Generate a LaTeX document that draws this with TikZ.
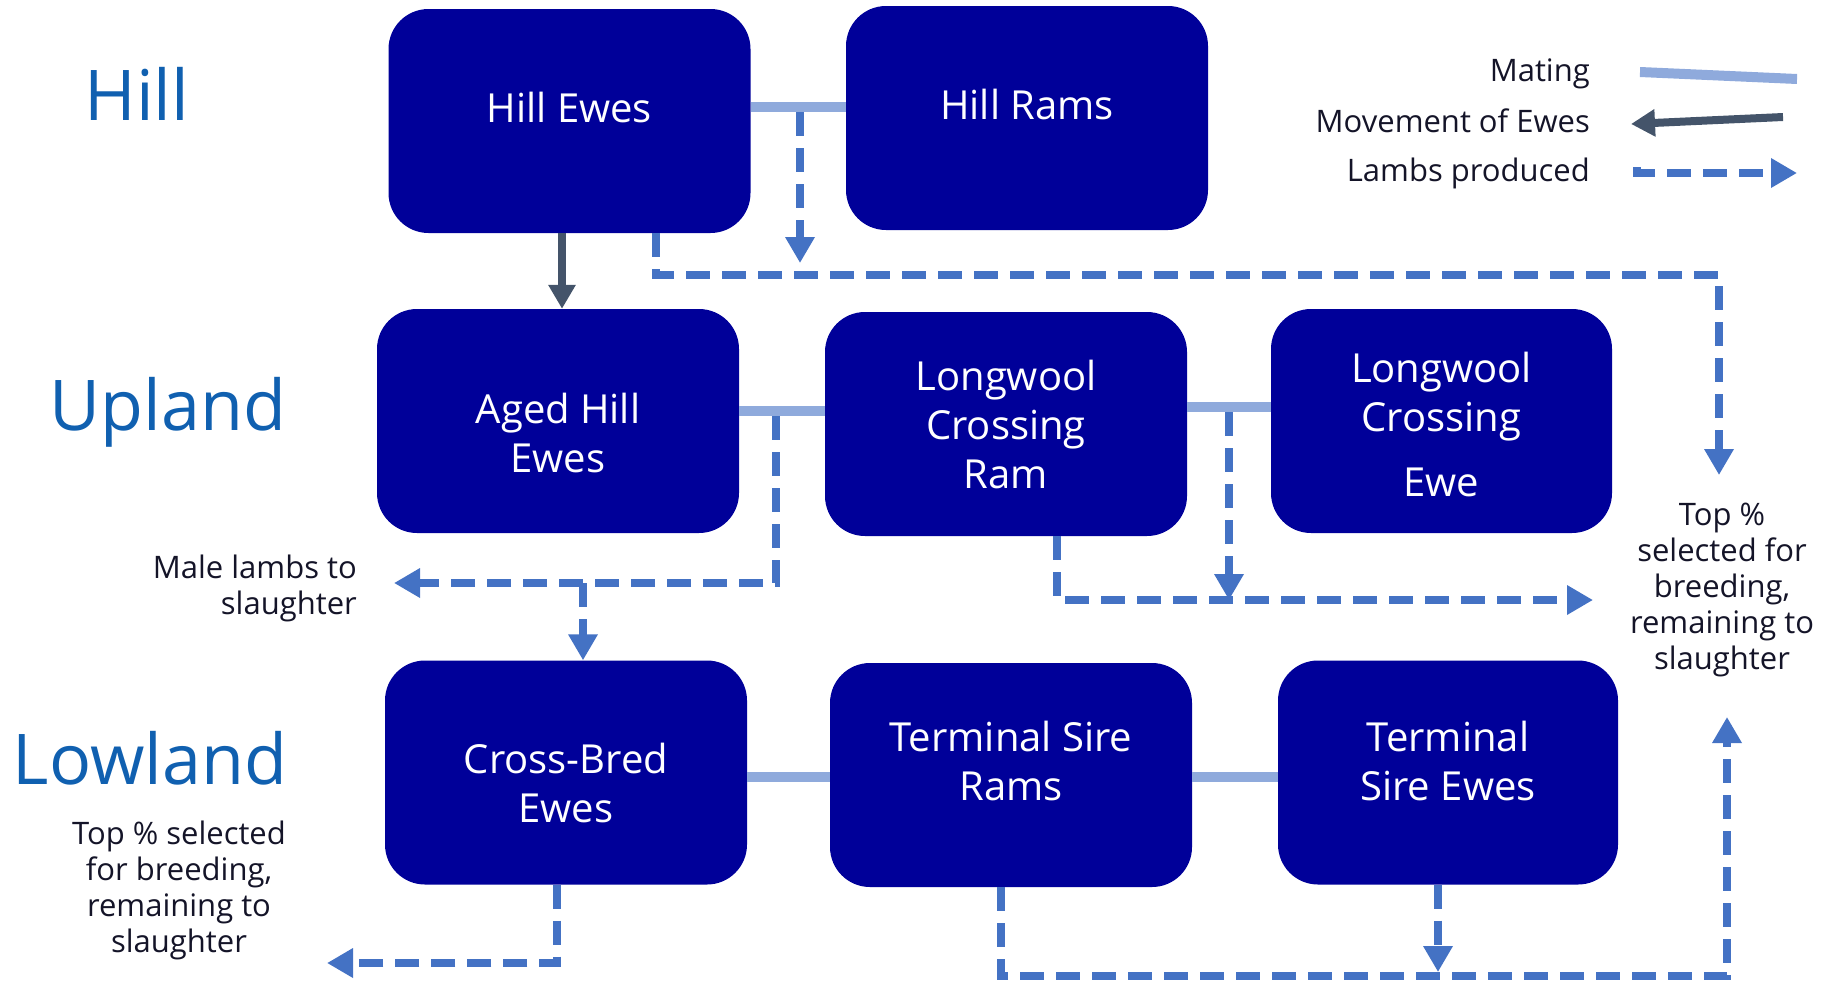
\documentclass[tikz,border=0pt]{standalone}
\usepackage{fontspec}
\setmainfont{Open Sans}
\usetikzlibrary{arrows.meta,calc}
\definecolor{boxfill}{RGB}{0,0,153}
\definecolor{matingblue}{RGB}{143,170,220}
\definecolor{lambblue}{RGB}{68,114,196}
\definecolor{moveslate}{RGB}{68,84,106}
\definecolor{regionblue}{RGB}{16,96,176}
\definecolor{notetext}{RGB}{20,20,40}
\begin{document}
\begin{tikzpicture}[x=1pt,y=-1pt,
  box/.style={fill=boxfill,rounded corners=40pt,inner sep=0pt,minimum width=362pt,minimum height=224pt},
  boxtext/.style={text=white,font=\fontsize{40}{49}\selectfont,align=center,inner sep=0pt},
  region/.style={text=regionblue,font=\fontsize{70}{80}\selectfont,inner sep=0pt},
  note/.style={text=notetext,font=\fontsize{31}{36}\selectfont,align=center,inner sep=0pt},
  mating/.style={draw=matingblue,line width=10pt},
  lamb/.style={draw=lambblue,line width=8pt,dash pattern=on 24pt off 12pt,-{Triangle[width=28pt,length=26pt]}},
  move/.style={draw=moveslate,line width=8pt,-{Triangle[width=26pt,length=24pt]}}]
\useasboundingbox (0,0) rectangle (1830,980);

% region labels
\node[region] (hill) at (137,94) {Hill};
\node[region] (upland) at (168,412) {Upland};
\node[region] (lowland) at (150,758) {Lowland};

% boxes
\node[box] (HE) at (569.5,121) {};
\node[box] (HR) at (1027,118) {};
\node[box] (AH) at (558,421) {};
\node[box] (LR) at (1006,424) {};
\node[box,minimum width=341pt] (LE) at (1441.5,421) {};
\node[box] (CB) at (566,772.5) {};
\node[box] (TR) at (1011,775) {};
\node[box,minimum width=340pt] (TE) at (1448,772.5) {};

% box texts
\node[boxtext] (HEt) at ([yshift=14pt]HE.center) {Hill Ewes};
\node[boxtext] (HRt) at ([yshift=14pt]HR.center) {Hill Rams};
\node[boxtext] (AHt) at ([yshift=-12pt]AH.center) {Aged Hill\\Ewes};
\node[boxtext] (LRt) at (LR.center) {Longwool\\Crossing\\Ram};
\node[boxtext] (LEt) at ([yshift=-3pt]LE.center) {Longwool\\Crossing\\[16pt]Ewe};
\node[boxtext] (CBt) at ([yshift=-10pt]CB.center) {Cross-Bred\\Ewes};
\node[boxtext] (TRt) at ([yshift=14pt]TR.center) {Terminal Sire\\Rams};
\node[boxtext] (TEt) at ([yshift=12pt]TE.center) {Terminal\\Sire Ewes};

% notes
\node[note] (topR) at (1722,590) {Top \%\\selected for\\breeding,\\remaining to\\slaughter};
\node[note,align=right,anchor=east] (male) at (357,588) {Male lambs to\\slaughter};
\node[note] (topL) at (179,890) {Top \% selected\\for breeding,\\remaining to\\slaughter};

% legend
\node[note,anchor=east] (lgM) at (1590,74) {Mating};
\node[note,anchor=east] (lgE) at (1590,121) {Movement of Ewes};
\node[note,anchor=east] (lgL) at (1590,173) {Lambs produced};
\coordinate (lm1) at (1640,72); \coordinate (lm2) at (1797,79);
\coordinate (le1) at (1783,117); \coordinate (le2) at (1631,124);
\coordinate (ll0) at (1637,167); \coordinate (ll1) at (1637,173); \coordinate (ll2) at (1797,173);
\draw[mating] (lm1) -- (lm2);
\draw[move] (le1) -- (le2);
\draw[lamb] (ll0) -- (ll1) -- (ll2);

% ---- Hill level
\coordinate (j1) at (800,107);
\coordinate (j1e) at (800,263);
\draw[mating] (HE.east |- j1) -- (HR.west |- j1);
\draw[lamb] ([yshift=-5pt]j1) -- (j1e);

\coordinate (h1) at (656,275);
\coordinate (h2) at (1719,275);
\coordinate (h3) at (1719,475);
\draw[lamb] (HE.south -| h1) -- (h1) -- (h2) -- (h3);

\coordinate (mv) at (562,0);
\draw[move] (HE.south -| mv) -- (AH.north -| mv);

% ---- Upland level
\coordinate (j2) at (776,411);
\draw[mating] (AH.east |- j2) -- (LR.west |- j2);
\coordinate (u1) at (776,583);
\coordinate (u2) at (394,583);
\coordinate (u3) at (583,583);
\draw[lamb] ([yshift=-5pt]j2) -- (u1) -- (u2);
\draw[lamb] (u3) -- (CB.north -| u3);

\coordinate (j3) at (1229,407);
\draw[mating] (LR.east |- j3) -- (LE.west |- j3);
\coordinate (r1) at (1057,600);
\coordinate (r2) at (1593,600);
\coordinate (r3) at (1229,600);
\draw[lamb] (LR.south -| r1) -- (r1) -- (r2);
\draw[lamb] ([yshift=-5pt]j3) -- (r3);

% ---- Lowland level
\coordinate (j4) at (0,777);
\draw[mating] (CB.east |- j4) -- (TR.west |- j4);
\draw[mating] (TR.east |- j4) -- (TE.west |- j4);

\coordinate (l1) at (557,963);
\coordinate (l2) at (327,963);
\draw[lamb] (CB.south -| l1) -- (l1) -- (l2);

\coordinate (b1) at (1001,976);
\coordinate (b2) at (1727,976);
\coordinate (b3) at (1727,717);
\draw[lamb] (TR.south -| b1) -- (b1) -- (b2) -- (b3);

\coordinate (b4) at (1438,972);
\draw[lamb] (TE.south -| b4) -- (b4);
\end{tikzpicture}
\end{document}
